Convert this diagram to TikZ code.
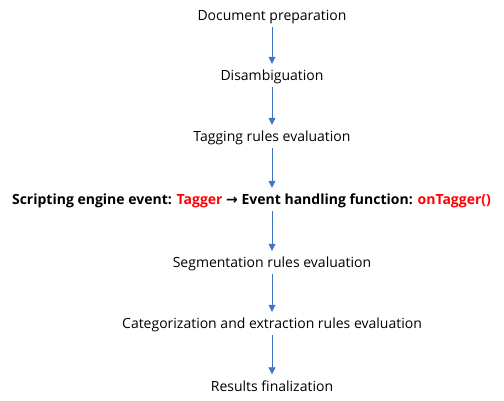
\documentclass[tikz,border=0pt]{standalone}
\usepackage{fontspec}
\setmainfont{Open Sans}
\newfontfamily\arrowfont{DejaVu Sans}
\usepackage{tikz}
\usetikzlibrary{arrows.meta,positioning}

\begin{document}
\begin{tikzpicture}[
    x=1pt, y=-1pt,
    font=\fontsize{14}{16}\selectfont,
    stage/.style={inner sep=3pt, align=center, text=black},
    event/.style={stage, font=\fontsize{14}{16}\selectfont\bfseries},
    flow/.style={-{Triangle[length=7pt,width=7pt]}, draw={rgb,255:red,68;green,114;blue,196}, semithick, shorten >=3pt}
]
    \useasboundingbox (0,0) rectangle (504,400);

    % --- PROCESSING STAGES ---
    \node[stage] (DocPrep) at (272,17) {Document preparation};
    \node[stage] (Disamb) at (272,77) {Disambiguation};
    \node[stage] (Tagging) at (272,138) {Tagging rules evaluation};
    \node[event] (TaggerEvent) at (251.5,201) {Scripting engine event: \textcolor{red}{Tagger} {\arrowfont→} Event handling function: \textcolor{red}{onTagger()}};
    \node[stage] (Segment) at (272,264) {Segmentation rules evaluation};
    \node[stage] (Categ) at (272,325) {Categorization and extraction rules evaluation};
    \node[stage] (Results) at (272,386) {Results finalization};

    % --- FLOW ---
    \draw[flow] (DocPrep.south) -- (Disamb.north);
    \draw[flow] (Disamb.south) -- (Tagging.north);
    \draw[flow] (Tagging.south) -- (Tagging.south |- TaggerEvent.north);
    \draw[flow] (Segment.north |- TaggerEvent.south) -- (Segment.north);
    \draw[flow] (Segment.south) -- (Categ.north);
    \draw[flow] (Categ.south) -- (Results.north);

\end{tikzpicture}
\end{document}
